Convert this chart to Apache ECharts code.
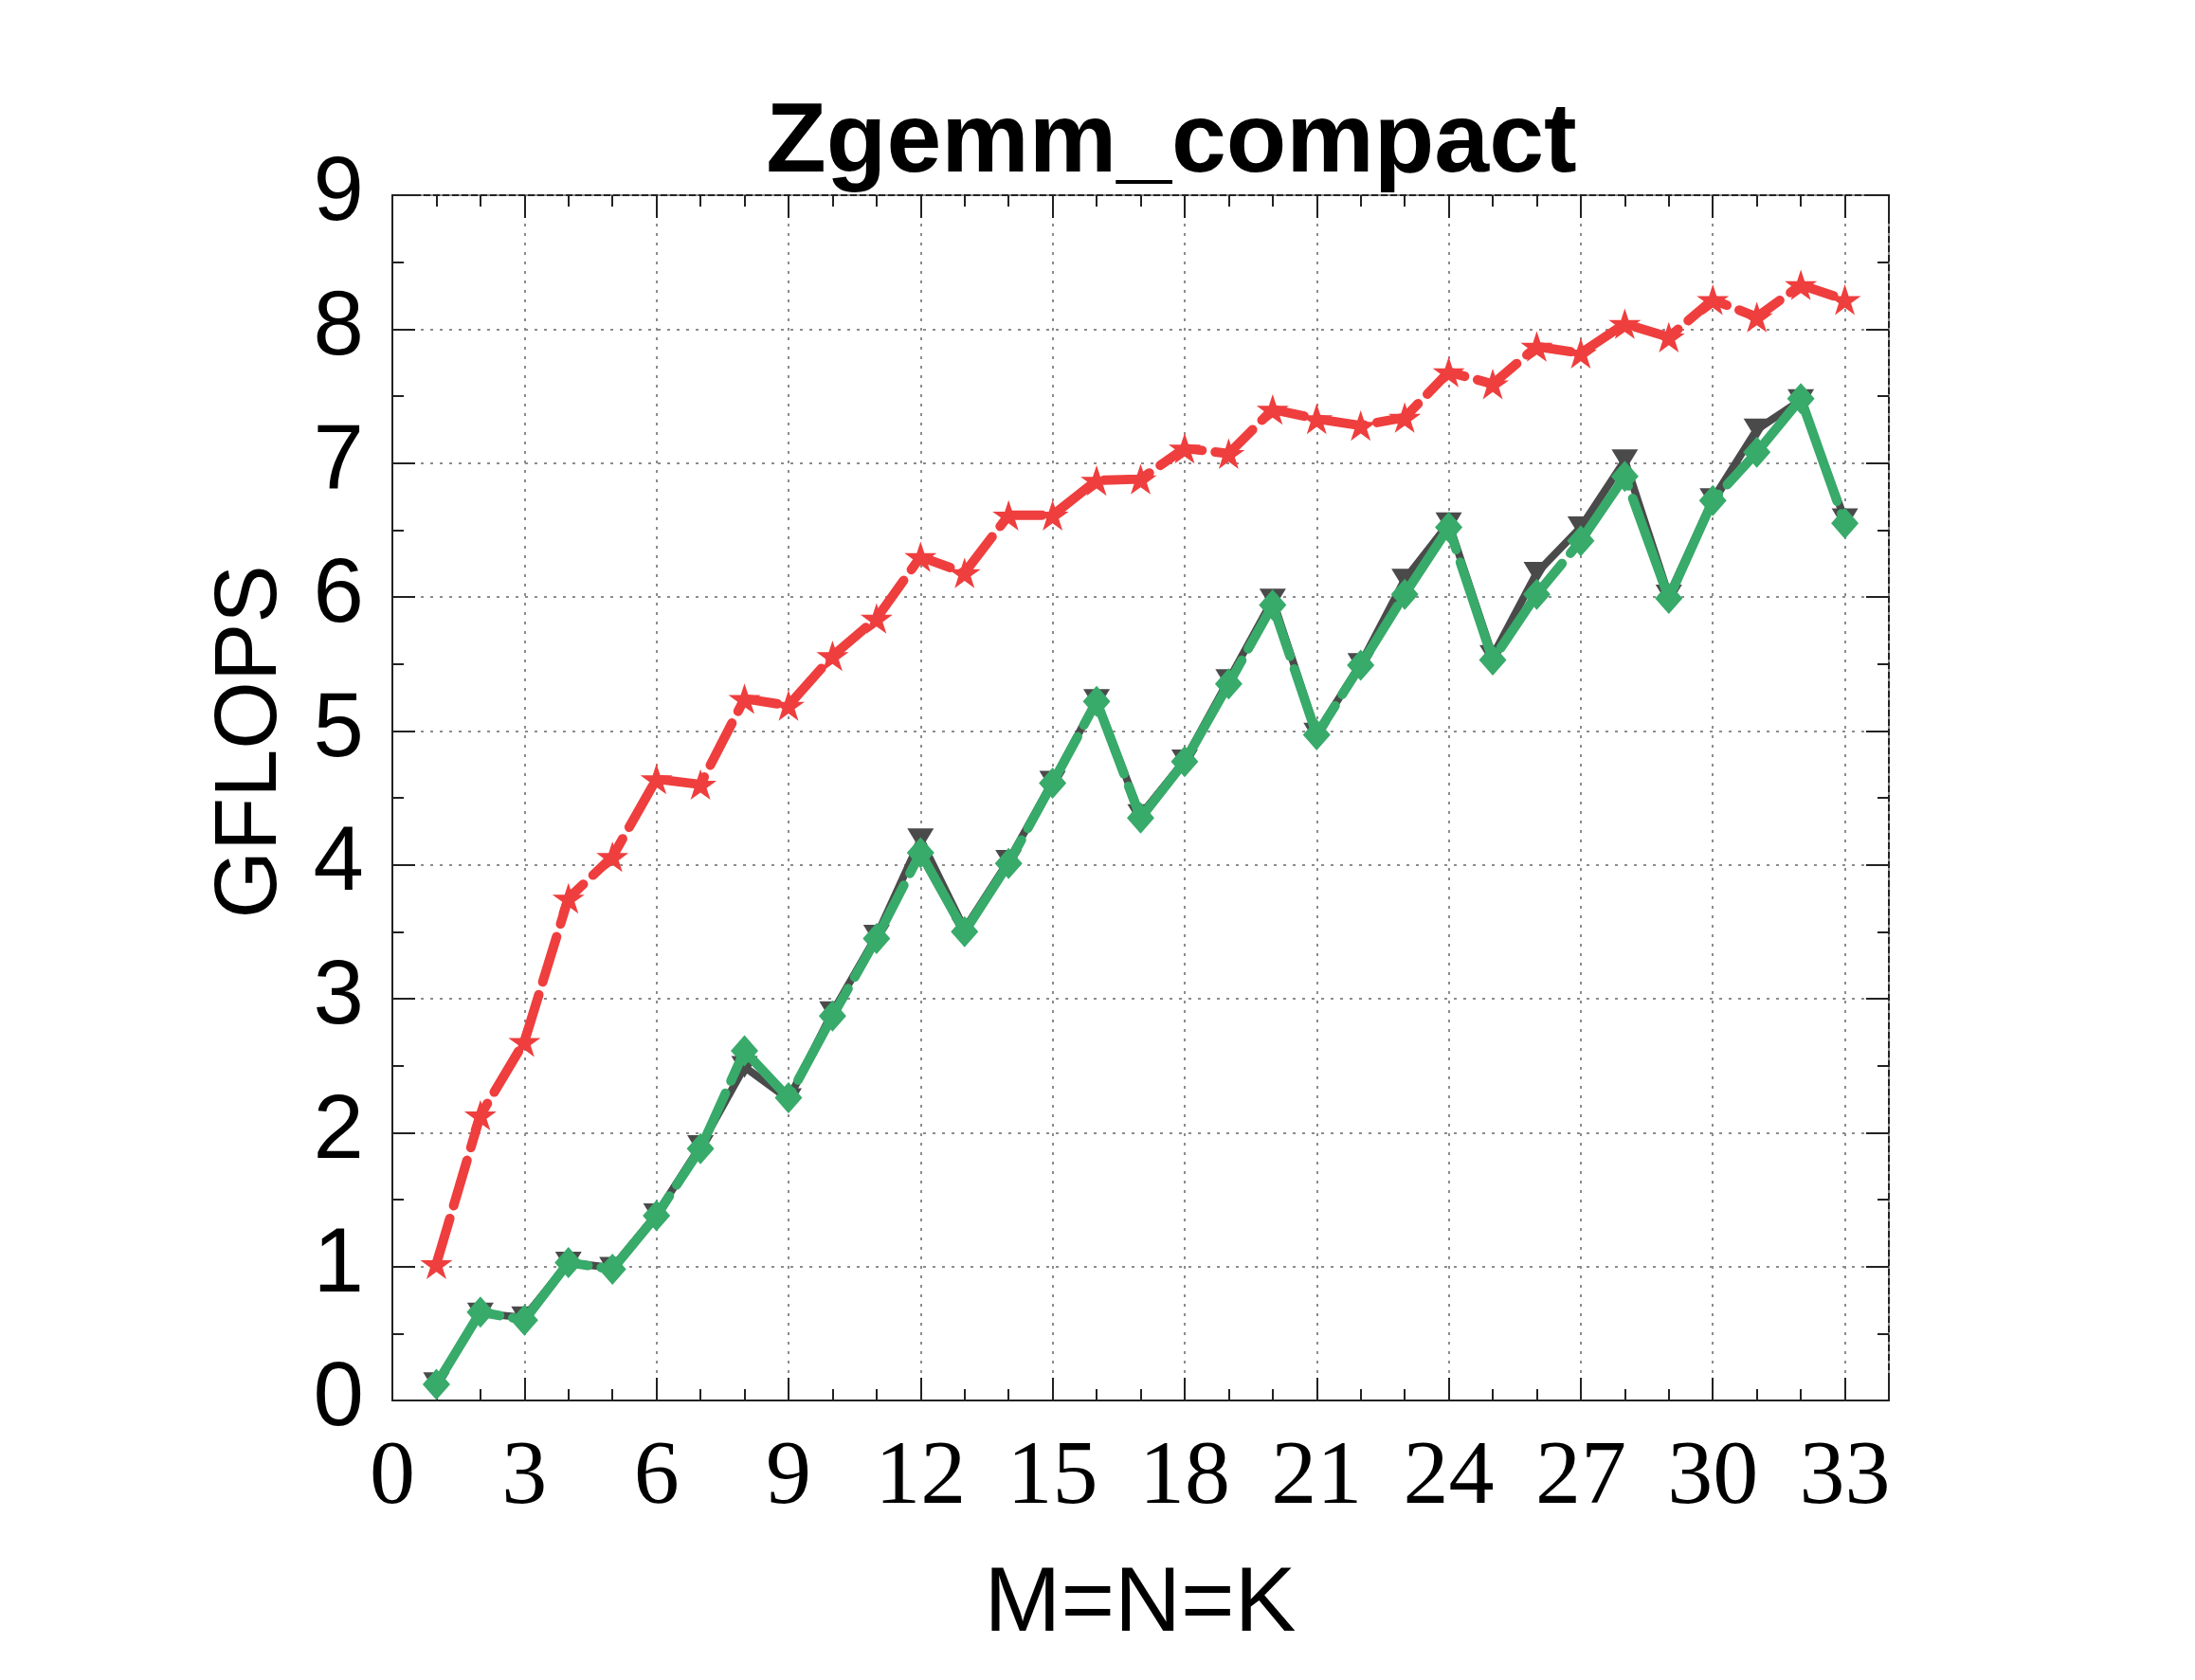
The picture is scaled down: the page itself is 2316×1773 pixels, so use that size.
<html>
  <head>
    <script src="https://cdn.jsdelivr.net/npm/echarts@6.0.0/dist/echarts.min.js"></script>
    <title>Zgemm_compact</title>
  </head>
  <body style="margin:0; background-color:#ffffff;">
    <div id="chart" style="width:2316px; height:1773px;"></div>
    <script>
      // M=N=K sizes
      const sizes = [1, 2, 3, 4, 5, 6, 7, 8, 9, 10, 11, 12, 13, 14, 15, 16, 17, 18, 19, 20, 21, 22, 23, 24, 25, 26, 27, 28, 29, 30, 31, 32, 33];
      // GFLOPS
      const redVals = [1.02, 2.13, 2.68, 3.75, 4.06, 4.64, 4.60, 5.24, 5.19, 5.56, 5.84, 6.30, 6.18, 6.61, 6.61, 6.87, 6.88, 7.11, 7.07, 7.40, 7.33, 7.28, 7.34, 7.68, 7.59, 7.87, 7.82, 8.04, 7.94, 8.22, 8.09, 8.33, 8.22];
      const grayVals = [0.13, 0.65, 0.62, 1.03, 0.99, 1.39, 1.90, 2.49, 2.25, 2.90, 3.47, 4.19, 3.52, 4.03, 4.62, 5.23, 4.37, 4.78, 5.38, 5.98, 4.98, 5.50, 6.13, 6.55, 5.56, 6.18, 6.52, 7.02, 6.01, 6.73, 7.25, 7.47, 6.58];
      const greenVals = [0.12, 0.66, 0.60, 1.03, 0.98, 1.38, 1.88, 2.61, 2.26, 2.87, 3.45, 4.09, 3.50, 4.01, 4.61, 5.22, 4.35, 4.77, 5.35, 5.94, 4.97, 5.49, 6.02, 6.52, 5.53, 6.02, 6.42, 6.90, 5.99, 6.72, 7.08, 7.48, 6.55];

      const red = '#ef3e3e'
      const green = '#38aa6a'
      const gray = '#4a4a4a'
      const axisColor = '#222222'
      const starPath = 'path://M50,0 L61.2,34.5 L97.6,34.5 L68.2,55.9 L79.4,90.5 L50,69.1 L20.6,90.5 L31.8,55.9 L2.4,34.5 L38.8,34.5 Z'

      const pairs = vals => sizes.map((s, i) => [s, vals[i]]);

      const gridLine = { show: true, lineStyle: { color: '#8c8c8c', width: 2, type: [3, 7] } };
      const yLabelStyle = { margin: 30, fontFamily: 'Liberation Sans', fontSize: 96, color: '#000' };

      // tick-only axes, pulled into the plot by their own tick length so the ticks point inwards
      const tickAxis = (pos, max, interval, len) => ({
        type: 'value', position: pos, offset: -len, min: 0, max: max, interval: interval,
        axisLine: { show: false, onZero: false },
        axisTick: { show: true, inside: false, length: len, lineStyle: { color: axisColor, width: 2 } },
        axisLabel: { show: false },
        splitLine: { show: false }
      });

      const chart = echarts.init(document.getElementById('chart'));

      const option = {
        backgroundColor: '#ffffff',
        animation: false,
        title: {
          text: 'Zgemm_compact',
          left: 1231,
          top: 58,
          textAlign: 'center',
          textStyle: { fontFamily: 'Liberation Sans', fontWeight: 'bold', fontSize: 104, color: '#000' }
        },
        graphic: [
          {
            type: 'text',
            x: 266,
            y: 783,
            rotation: Math.PI / 2,
            style: {
              text: 'GFLOPS',
              font: '92px "Liberation Sans"',
              fill: '#000',
              align: 'center',
              verticalAlign: 'middle'
            }
          },
          {
            type: 'text',
            x: 1203,
            y: 1694,
            style: {
              text: 'M=N=K',
              font: '97px "Liberation Sans"',
              fill: '#000',
              align: 'center',
              verticalAlign: 'middle'
            }
          }
        ],
        grid: {
          left: 414, right: 323, top: 206, bottom: 295,
          containLabel: false, outerBoundsMode: 'none',
          show: true, borderColor: axisColor, borderWidth: 2
        },
        xAxis: [
          {
            type: 'value', position: 'bottom', min: 0, max: 34, interval: 3,
            axisLine: { show: true, onZero: false, lineStyle: { color: axisColor, width: 2 } },
            axisTick: { show: false },
            axisLabel: {
              margin: 9, fontFamily: 'Liberation Serif', fontSize: 96, color: '#000',
              formatter: v => (v % 3 === 0 ? String(v) : '')
            },
            splitLine: gridLine
          },
          tickAxis('bottom', 34, 3, 24),
          tickAxis('bottom', 34, 1, 12),
          tickAxis('top', 34, 3, 24),
          tickAxis('top', 34, 1, 12)
        ],
        yAxis: [
          {
            // labels 1..8 and the dotted grid
            type: 'value', position: 'left', min: 0, max: 9, interval: 1,
            axisLine: { show: true, onZero: false, lineStyle: { color: axisColor, width: 2 } },
            axisTick: { show: false },
            axisLabel: Object.assign({ showMinLabel: false, showMaxLabel: false }, yLabelStyle),
            splitLine: gridLine
          },
          {
            // labels 0 and 9 only
            type: 'value', position: 'left', min: 0, max: 9, interval: 9,
            axisLine: { show: false, onZero: false },
            axisTick: { show: false },
            axisLabel: Object.assign({ showMinLabel: true, showMaxLabel: true }, yLabelStyle),
            splitLine: { show: false }
          },
          tickAxis('left', 9, 1, 24),
          tickAxis('left', 9, 0.5, 12),
          tickAxis('right', 9, 1, 24),
          tickAxis('right', 9, 0.5, 12)
        ],
        series: [
          {
            type: 'line', data: pairs(redVals),
            symbol: starPath, symbolSize: 34, symbolKeepAspect: true,
            itemStyle: { color: red },
            lineStyle: { color: red, width: 10, type: [50, 14], cap: 'round' },
            z: 3
          },
          {
            type: 'line', data: pairs(grayVals),
            symbol: 'triangle', symbolRotate: 180, symbolSize: [28, 23],
            itemStyle: { color: gray },
            lineStyle: { color: gray, width: 8, cap: 'round', join: 'round' },
            z: 2
          },
          {
            type: 'line', data: pairs(greenVals),
            symbol: 'diamond', symbolSize: [29, 33],
            itemStyle: { color: green },
            lineStyle: { color: green, width: 10, type: [110, 14], cap: 'round' },
            z: 4
          }
        ]
      };

      chart.setOption(option);
    </script>
  </body>
</html>
